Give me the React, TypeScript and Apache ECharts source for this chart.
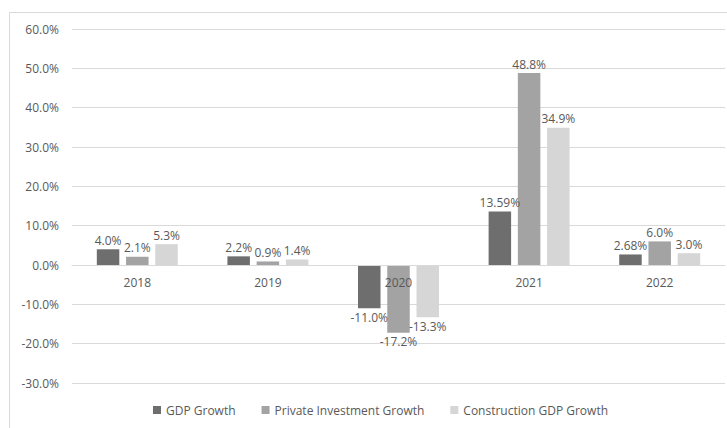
import React, { useEffect, useRef } from "react";
import * as echarts from "echarts";

const categories = ["2018", "2019", "2020", "2021", "2022"];
const gdpGrowth = [4.0, 2.2, -11.0, 13.59, 2.68];
const privateInvestmentGrowth = [2.1, 0.9, -17.2, 48.8, 6.0];
const constructionGdpGrowth = [5.3, 1.4, -13.3, 34.9, 3.0];
const seriesNames = ["GDP Growth", "Private Investment Growth", "Construction GDP Growth"];
const seriesColors = ["#6e6e6e", "#a3a3a3", "#d6d6d6"];

const fmt = (v: number) => {
  const d = Math.abs(v * 10 - Math.round(v * 10)) < 1e-9 ? 1 : 2;
  return v.toFixed(d) + "%";
};

const Y_MIN = -30;
const Y_MAX = 60;
const GRID_TOP = 29;
const GRID_BOTTOM = 45;
const H = 428;

export default function App() {
  const ref = useRef<HTMLDivElement>(null);
  useEffect(() => {
    if (!ref.current) return;
    const chart = echarts.init(ref.current, undefined, { renderer: "svg" });
    const dataSets = [gdpGrowth, privateInvestmentGrowth, constructionGdpGrowth];
    const gridH = H - GRID_TOP - GRID_BOTTOM;
    const zeroOffset = -(gridH * (0 - Y_MIN)) / (Y_MAX - Y_MIN);
    chart.setOption({
      animation: false,
      textStyle: { fontFamily: "Open Sans, sans-serif" },
      graphic: [
        {
          type: "rect",
          shape: { x: 9.5, y: 12.5, width: 730, height: 430 },
          style: { fill: "none", stroke: "#d9d9d9", lineWidth: 1 },
          silent: true,
        },
      ],
      grid: { left: 72, right: 2, top: GRID_TOP, bottom: GRID_BOTTOM, containLabel: false },
      legend: {
        bottom: 7,
        left: 148,
        itemWidth: 8,
        itemHeight: 8,
        itemGap: 26,
        icon: "rect",
        textStyle: { color: "#595959", fontSize: 12 },
        data: seriesNames,
      },
      xAxis: {
        type: "category",
        data: categories,
        offset: zeroOffset,
        z: 10,
        axisLine: { onZero: false, lineStyle: { color: "#d9d9d9" } },
        axisTick: { show: false },
        axisLabel: { color: "#595959", fontSize: 12, margin: 11 },
      },
      yAxis: {
        type: "value",
        min: Y_MIN,
        max: Y_MAX,
        interval: 10,
        axisLabel: {
          color: "#595959",
          fontSize: 12,
          margin: 13,
          formatter: (v: number) => v.toFixed(1) + "%",
        },
        splitLine: { lineStyle: { color: "#d9d9d9" } },
        axisLine: { show: false },
        axisTick: { show: false },
      },
      series: seriesNames.map((name, i) => ({
        name,
        type: "bar",
        data: dataSets[i].map((v) => ({
          value: v,
          label: { position: v >= 0 ? "top" : "bottom" },
        })),
        itemStyle: { color: seriesColors[i] },
        barGap: "30%",
        barCategoryGap: "38%",
        label: {
          show: true,
          color: "#595959",
          fontSize: 12,
          distance: 3,
          formatter: (p: any) => fmt(p.value),
        },
      })),
    });
    return () => chart.dispose();
  }, []);
  return <div ref={ref} style={{ width: 727, height: 428, position: "absolute", left: 0, top: 0 }} />;
}
